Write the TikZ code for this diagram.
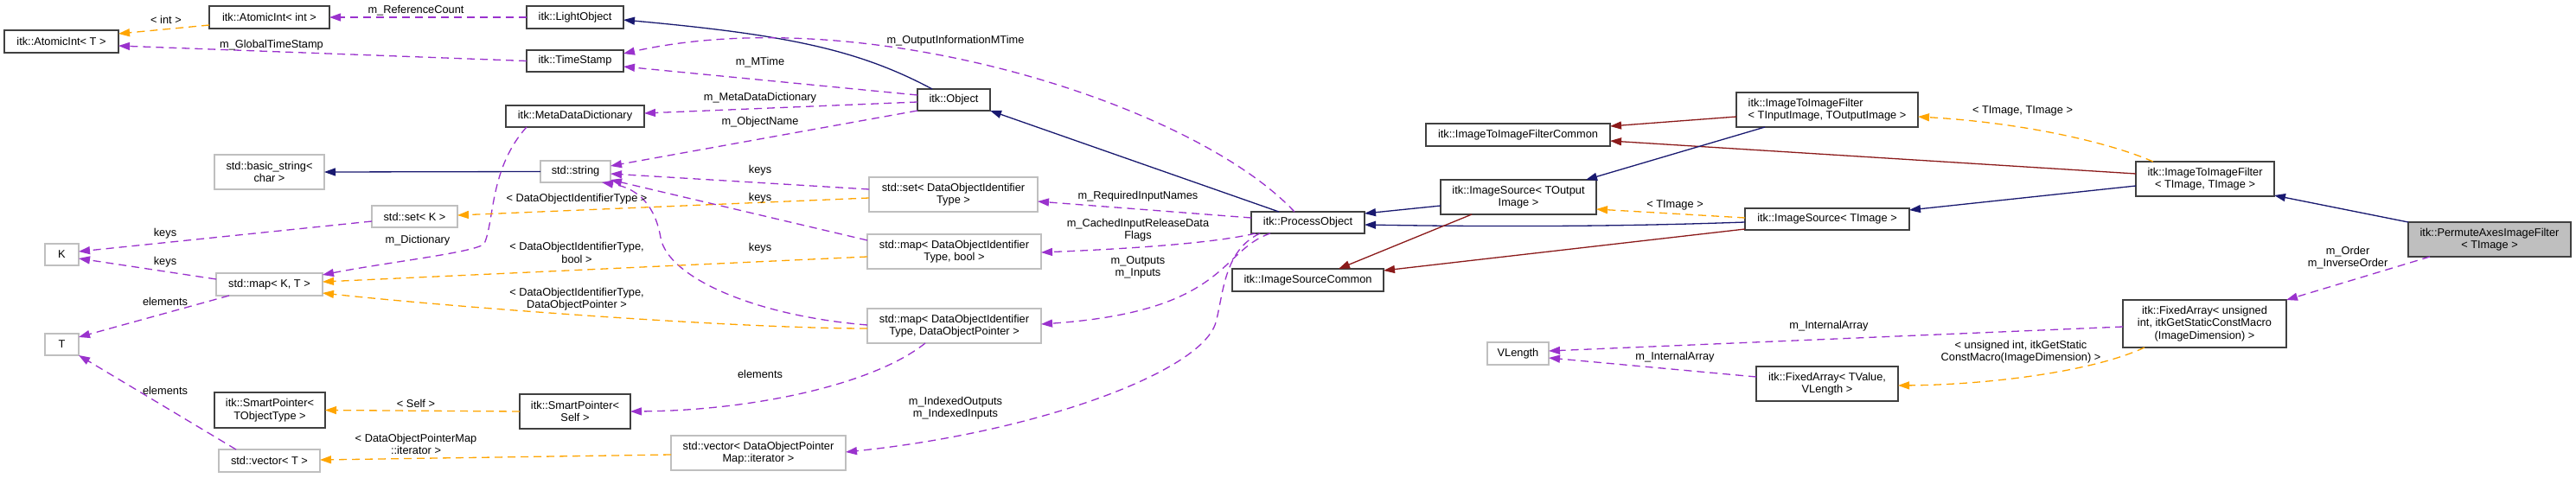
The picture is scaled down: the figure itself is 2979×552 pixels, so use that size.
\documentclass[tikz,border=0pt]{standalone}
\usepackage{fontspec}
\setmainfont{Liberation Sans}
\usetikzlibrary{arrows.meta,calc}
\definecolor{navy}{HTML}{191970}
\definecolor{dred}{HTML}{8B1A1A}
\definecolor{purp}{HTML}{9A32CD}
\definecolor{orng}{HTML}{FFA500}
\definecolor{gsf}{HTML}{BFBFBF}
\definecolor{bord}{HTML}{404040}
\begin{document}
\begin{tikzpicture}[x=1pt,y=-1pt,
  font=\fontsize{12.8}{14.5}\selectfont,
  box/.style={draw=bord,line width=1.3pt,fill=white,inner sep=0pt,outer sep=0pt,align=center},
  ubox/.style={box,draw=gsf},
  lbl/.style={inner sep=0pt,align=center},
  edgebase/.style={line width=1.3pt,-{Triangle[length=13pt,width=9pt]}},
  nv/.style={edgebase,draw=navy},
  rd/.style={edgebase,draw=dred},
  pu/.style={edgebase,draw=purp,dash pattern=on 9pt off 6pt},
  og/.style={edgebase,draw=orng,dash pattern=on 9pt off 6pt}]
\fill[white] (0,0) rectangle (2979,552);
\useasboundingbox (0,0) rectangle (2979,552);

% nodes
\node[box,minimum width=132,minimum height=26] (atiT) at (71,48) {itk::AtomicInt< T >};
\node[box,minimum width=139,minimum height=26] (atiI) at (311.5,20) {itk::AtomicInt< int >};
\node[box,minimum width=112,minimum height=26] (light) at (665,20) {itk::LightObject};
\node[box,minimum width=112,minimum height=25] (tstamp) at (665,70.5) {itk::TimeStamp};
\node[box,minimum width=160,minimum height=25] (mdd) at (665,134.5) {itk::MetaDataDictionary};
\node[box,minimum width=84,minimum height=25] (object) at (1103,115.5) {itk::Object};
\node[ubox,minimum width=127,minimum height=40] (bstr) at (311.5,199) {std::basic\_string<\\char >};
\node[ubox,minimum width=81,minimum height=25] (str) at (665.5,198.5) {std::string};
\node[ubox,minimum width=195,minimum height=40] (setd) at (1102.5,225) {std::set< DataObjectIdentifier\\Type >};
\node[ubox,minimum width=99,minimum height=25] (setk) at (479.5,250.5) {std::set< K >};
\node[ubox,minimum width=39,minimum height=25] (K) at (71.5,294.5) {K};
\node[ubox,minimum width=123,minimum height=26] (mapkt) at (311.5,329) {std::map< K, T >};
\node[ubox,minimum width=39,minimum height=25] (T) at (71.5,398.5) {T};
\node[box,minimum width=128,minimum height=41] (spto) at (312,474.5) {itk::SmartPointer<\\TObjectType >};
\node[ubox,minimum width=117,minimum height=26] (vect) at (311.5,533) {std::vector< T >};
\node[ubox,minimum width=201,minimum height=40] (mapb) at (1103.5,291) {std::map< DataObjectIdentifier\\Type, bool >};
\node[ubox,minimum width=201,minimum height=40] (mapd) at (1103.5,377) {std::map< DataObjectIdentifier\\Type, DataObjectPointer >};
\node[box,minimum width=128,minimum height=40] (sps) at (665,476) {itk::SmartPointer<\\Self >};
\node[ubox,minimum width=202,minimum height=40] (vecd) at (877,524) {std::vector< DataObjectPointer\\Map::iterator >};
\node[box,minimum width=131,minimum height=25] (po) at (1512.5,257.5) {itk::ProcessObject};
\node[box,minimum width=213,minimum height=26] (itifc) at (1755.5,156) {itk::ImageToImageFilterCommon};
\node[box,minimum width=180,minimum height=40] (isto) at (1756,228) {itk::ImageSource< TOutput\\Image >};
\node[box,minimum width=175,minimum height=26] (isc) at (1512.5,324) {itk::ImageSourceCommon};
\node[ubox,minimum width=71,minimum height=26] (vlen) at (1755.5,409) {VLength};
\node[box,minimum width=210,minimum height=40,align=left] (itif1) at (2113,127) {itk::ImageToImageFilter\\< TInputImage, TOutputImage >};
\node[box,minimum width=190,minimum height=25] (ist) at (2113,253.5) {itk::ImageSource< TImage >};
\node[box,minimum width=164,minimum height=40] (fatv) at (2113,444) {itk::FixedArray< TValue,\\VLength >};
\node[box,minimum width=160,minimum height=40] (itif2) at (2550,207) {itk::ImageToImageFilter\\< TImage, TImage >};
\node[box,fill=gsf,minimum width=188,minimum height=40] (pa) at (2879,277) {itk::PermuteAxesImageFilter\\< TImage >};
\node[box,minimum width=189,minimum height=55] (fau) at (2549.5,374.5) {itk::FixedArray< unsigned\\int, itkGetStaticConstMacro\\(ImageDimension) >};

% edges
\draw[og] ($(atiI.north west)+(0,22)$) -- ($(atiT.north east)+(0,4)$);
\draw[pu] (light.west) -- (atiI.east);
\draw[pu] (tstamp.west) -- ($(atiT.north east)+(0,18)$);
\draw[nv] ($(object.north west)+(17,0)$) .. controls (992,57) and (908,40) .. ($(light.north east)+(0,16)$);
\draw[pu] ($(object.north west)+(0,7)$) -- ($(tstamp.north east)+(0,19)$);
\draw[pu] ($(po.north west)+(50,0)$) .. controls (1380,120) and (1000,0) .. ($(tstamp.north east)+(0,4)$);
\draw[pu] ($(object.north west)+(0,15)$) -- ($(mdd.north east)+(0,9)$);
\draw[pu] (object.south west) -- ($(str.north east)+(0,6)$);
\draw[nv] (str.west) -- (bstr.east);
\draw[pu] ($(mdd.south west)+(24,0)$) .. controls (566,195) and (572,255) .. (560,282) .. controls (550,292) and (450,303) .. ($(mapkt.north east)+(0,2)$);
\draw[pu] ($(setk.north west)+(0,18)$) -- ($(K.north east)+(0,9)$);
\draw[pu] ($(mapkt.north west)+(0,7)$) -- ($(K.north east)+(0,17)$);
\draw[pu] ($(mapkt.south west)+(15,0)$) -- ($(T.north east)+(0,4)$);
\draw[pu] ($(vect.north west)+(20,0)$) -- (T.south east);
\draw[og] ($(setd.north west)+(0,24)$) -- ($(setk.north east)+(0,11)$);
\draw[pu] ($(setd.north west)+(0,14)$) -- ($(str.north east)+(0,15)$);
\draw[pu] ($(mapb.north west)+(0,7)$) -- ($(str.north east)+(0,22)$);
\draw[pu] ($(mapd.north west)+(0,19)$) .. controls (870,365) and (772,320) .. (764,275) .. controls (758,240) and (740,218) .. ($(str.south east)+(-10,0)$);
\draw[og] ($(mapb.north west)+(0,26)$) -- ($(mapkt.north east)+(0,10)$);
\draw[og] ($(mapd.north west)+(0,23)$) .. controls (850,380) and (520,355) .. ($(mapkt.south east)+(0,-3)$);
\draw[pu] ($(mapd.south west)+(67,0)$) .. controls (1010,445) and (870,475) .. (sps.east);
\draw[og] (sps.west) -- (spto.east);
\draw[og] ($(vecd.north west)+(0,22)$) -- ($(vect.north east)+(0,12)$);
\draw[nv] ($(po.north west)+(32,0)$) -- (object.south east);
\draw[nv] ($(isto.north west)+(0,30)$) -- ($(po.north east)+(0,2)$);
\draw[nv] ($(ist.north west)+(0,16)$) .. controls (1850,263) and (1700,262) .. ($(po.north east)+(0,15)$);
\draw[rd] ($(isto.south west)+(36,0)$) -- ($(isc.north west)+(123,0)$);
\draw[rd] ($(ist.south west)+(0,-1)$) -- ($(isc.north east)+(0,2)$);
\draw[rd] ($(itif1.north west)+(0,28)$) -- ($(itifc.north east)+(0,3)$);
\draw[rd] ($(itif2.north west)+(0,14)$) -- ($(itifc.north east)+(0,20)$);
\draw[nv] ($(itif1.south west)+(33,0)$) -- ($(isto.north east)+(-12,0)$);
\draw[nv] ($(itif2.north west)+(0,28)$) -- ($(ist.north east)+(0,2)$);
\draw[og] ($(ist.north west)+(0,11)$) -- ($(isto.north east)+(0,34)$);
\draw[og] ($(itif2.north west)+(20,0)$) .. controls (2440,165) and (2340,142) .. ($(itif1.north east)+(0,28)$);
\draw[nv] (pa.north west) -- ($(itif2.south east)+(0,-1)$);
\draw[pu] ($(pa.south west)+(25,0)$) -- (fau.north east);
\draw[pu] ($(fau.north west)+(0,31)$) -- ($(vlen.north east)+(0,10)$);
\draw[pu] ($(fatv.north west)+(0,12)$) -- ($(vlen.north east)+(0,18)$);
\draw[og] ($(fau.south west)+(25,0)$) .. controls (2420,430) and (2300,445) .. ($(fatv.east)+(0,2)$);
\draw[pu] ($(po.north west)+(0,7)$) -- ($(setd.north east)+(0,28)$);
\draw[pu] ($(po.south west)+(5,0)$) .. controls (1400,282) and (1300,288) .. ($(mapb.north east)+(0,21)$);
\draw[pu] ($(po.south west)+(22,0)$) .. controls (1410,290) and (1420,360) .. ($(mapd.north east)+(0,18)$);
\draw[pu] ($(po.south west)+(10,0)$) .. controls (1415,290) and (1415,340) .. (1406,373) .. controls (1390,430) and (1200,500) .. ($(vecd.north east)+(0,19)$);

% labels
\node[lbl] (l1) at (192,23) {< int >};
\node[lbl] (l2) at (481,12) {m\_ReferenceCount};
\node[lbl] (l3) at (314,52) {m\_GlobalTimeStamp};
\node[lbl] (l4) at (1105,47) {m\_OutputInformationMTime};
\node[lbl] (l5) at (879,72) {m\_MTime};
\node[lbl] (l6) at (879,113) {m\_MetaDataDictionary};
\node[lbl] (l7) at (879,141) {m\_ObjectName};
\node[lbl] (l8) at (879,197) {keys};
\node[lbl] (l9) at (879,229) {keys};
\node[lbl] (l10) at (879,287) {keys};
\node[lbl] (l11) at (879,433) {elements};
\node[lbl] (l12) at (1105,472) {m\_IndexedOutputs\\m\_IndexedInputs};
\node[lbl] (l13) at (191,270) {keys};
\node[lbl] (l14) at (483,278) {m\_Dictionary};
\node[lbl] (l15) at (191,303) {keys};
\node[lbl] (l16) at (191,349) {elements};
\node[lbl] (l17) at (191,452) {elements};
\node[lbl] (l18) at (481,467) {< Self >};
\node[lbl] (l19) at (481,514) {< DataObjectPointerMap\\::iterator >};
\node[lbl] (l20) at (667,230) {< DataObjectIdentifierType >};
\node[lbl] (l21) at (667,292.5) {< DataObjectIdentifierType,\\bool >};
\node[lbl] (l22) at (667,346) {< DataObjectIdentifierType,\\DataObjectPointer >};
\node[lbl] (l23) at (1316,227) {m\_RequiredInputNames};
\node[lbl] (l24) at (1316,266) {m\_CachedInputReleaseData\\Flags};
\node[lbl] (l25) at (1316,309.5) {m\_Outputs\\m\_Inputs};
\node[lbl] (l26) at (1937,237) {< TImage >};
\node[lbl] (l27) at (2339,128) {< TImage, TImage >};
\node[lbl] (l28) at (2115,377) {m\_InternalArray};
\node[lbl] (l29) at (1937,413) {m\_InternalArray};
\node[lbl] (l30) at (2337,407) {< unsigned int, itkGetStatic\\ConstMacro(ImageDimension) >};
\node[lbl] (l31) at (2715,298) {m\_Order\\m\_InverseOrder};
\end{tikzpicture}
\end{document}
